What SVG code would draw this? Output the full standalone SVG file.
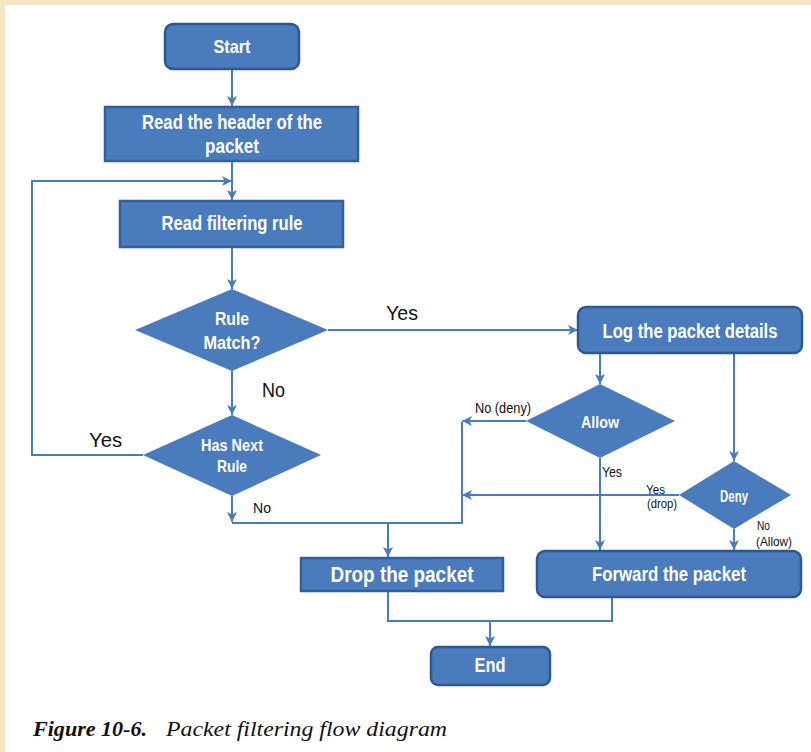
<svg xmlns="http://www.w3.org/2000/svg" width="811" height="752" viewBox="0 0 811 752">
<defs>
<marker id="arr" markerUnits="userSpaceOnUse" markerWidth="11" markerHeight="10" refX="10" refY="5" orient="auto">
<path d="M0,0 L10,5 L0,10 L2.5,5 z" fill="#4a7cbd"/>
</marker>
</defs>
<style>
.box{fill:#4a7cbd;stroke:#31609a;stroke-width:2.5}
.rbox{fill:#4a7cbd;stroke:#2c5a8e;stroke-width:2.5}
.dia{fill:#4a7cbd;stroke:none}
.ln{fill:none;stroke:#4a7cbd;stroke-width:2}
.t{font-family:'Liberation Sans',Arial,sans-serif;font-weight:bold;fill:#ffffff;text-anchor:middle}
.lb{font-family:'Liberation Sans',Arial,sans-serif;fill:#111111}
.cap{font-family:'Liberation Serif','Times New Roman',serif;font-style:italic;fill:#111111}
</style>
<rect x="0" y="0" width="811" height="752" fill="#f5e7c6"/>
<rect x="5" y="5" width="806" height="747" fill="#ffffff"/>

<g id="connectors">
<path class="ln" d="M232,69 V106" marker-end="url(#arr)"/>
<path class="ln" d="M232,161 V200" marker-end="url(#arr)"/>
<path class="ln" d="M143,455 H32 V181 H232" marker-end="url(#arr)"/>
<path class="ln" d="M232,247 V289" marker-end="url(#arr)"/>
<path class="ln" d="M232,371 V415" marker-end="url(#arr)"/>
<path class="ln" d="M328,330 H578" marker-end="url(#arr)"/>
<path class="ln" d="M232,496 V522" marker-end="url(#arr)"/>
<path class="ln" d="M232,523 H462 V422"/>
<path class="ln" d="M388,523 V557" marker-end="url(#arr)"/>
<path class="ln" d="M600,353 V384" marker-end="url(#arr)"/>
<path class="ln" d="M734,353 V461" marker-end="url(#arr)"/>
<path class="ln" d="M526,421 H462" marker-end="url(#arr)"/>
<path class="ln" d="M679,495 H462" marker-end="url(#arr)"/>
<path class="ln" d="M600,458 V550" marker-end="url(#arr)"/>
<path class="ln" d="M734,529 V550" marker-end="url(#arr)"/>
<path class="ln" d="M388,591 V621 H612 V597"/>
<path class="ln" d="M490,621 V646" marker-end="url(#arr)"/>
<text class="lb" x="386" y="320" font-size="21" textLength="32" lengthAdjust="spacingAndGlyphs">Yes</text>
<text class="lb" x="262" y="397" font-size="21" textLength="23" lengthAdjust="spacingAndGlyphs">No</text>
<text class="lb" x="89" y="447" font-size="21" textLength="33" lengthAdjust="spacingAndGlyphs">Yes</text>
<text class="lb" x="253" y="513" font-size="15" textLength="18" lengthAdjust="spacingAndGlyphs">No</text>
<text class="lb" x="475" y="413" font-size="14" textLength="56" lengthAdjust="spacingAndGlyphs">No (deny)</text>
<text class="lb" x="602" y="477" font-size="14" textLength="20" lengthAdjust="spacingAndGlyphs">Yes</text>
<text class="lb" x="646" y="494" font-size="12.5" textLength="19" lengthAdjust="spacingAndGlyphs">Yes</text>
<text class="lb" x="647" y="508" font-size="12.5" textLength="30" lengthAdjust="spacingAndGlyphs">(drop)</text>
<text class="lb" x="757" y="530" font-size="12" textLength="13" lengthAdjust="spacingAndGlyphs">No</text>
<text class="lb" x="756" y="546" font-size="12" textLength="36" lengthAdjust="spacingAndGlyphs">(Allow)</text>
</g>

<g id="start">
<rect class="rbox" x="165" y="24" width="134" height="45" rx="8"/>
<text class="t" x="232" y="53" font-size="18.5" textLength="37" lengthAdjust="spacingAndGlyphs">Start</text>
</g>
<g id="read-header">
<rect class="box" x="105" y="107" width="253" height="54"/>
<text class="t" x="232" y="129" font-size="19.5" textLength="180" lengthAdjust="spacingAndGlyphs">Read the header of the</text>
<text class="t" x="232" y="153" font-size="19.5" textLength="54" lengthAdjust="spacingAndGlyphs">packet</text>
</g>
<g id="read-rule">
<rect class="box" x="120" y="201" width="223" height="46"/>
<text class="t" x="232" y="230" font-size="19.5" textLength="141" lengthAdjust="spacingAndGlyphs">Read filtering rule</text>
</g>
<g id="rule-match">
<polygon class="dia" points="232,289 328,330 232,371 135,330"/>
<text class="t" x="232" y="325" font-size="18.5" textLength="34" lengthAdjust="spacingAndGlyphs">Rule</text>
<text class="t" x="232" y="349" font-size="18.5" textLength="57" lengthAdjust="spacingAndGlyphs">Match?</text>
</g>
<g id="has-next">
<polygon class="dia" points="232,415 321,455 232,496 143,455"/>
<text class="t" x="232" y="451" font-size="17" textLength="62" lengthAdjust="spacingAndGlyphs">Has Next</text>
<text class="t" x="232" y="472" font-size="17" textLength="30" lengthAdjust="spacingAndGlyphs">Rule</text>
</g>
<g id="log">
<rect class="rbox" x="578" y="307" width="224" height="46" rx="8"/>
<text class="t" x="690" y="338" font-size="20" textLength="175" lengthAdjust="spacingAndGlyphs">Log the packet details</text>
</g>
<g id="allow">
<polygon class="dia" points="600,384 675,421 600,458 526,421"/>
<text class="t" x="600" y="428" font-size="16" textLength="38" lengthAdjust="spacingAndGlyphs">Allow</text>
</g>
<g id="deny">
<polygon class="dia" points="734,461 791,495 734,529 679,495"/>
<text class="t" x="734" y="502" font-size="16" textLength="28" lengthAdjust="spacingAndGlyphs">Deny</text>
</g>
<g id="drop">
<rect class="box" x="301" y="558" width="202" height="33"/>
<text class="t" x="402" y="582" font-size="22" textLength="143" lengthAdjust="spacingAndGlyphs">Drop the packet</text>
</g>
<g id="forward">
<rect class="rbox" x="537" y="551" width="264" height="46" rx="8"/>
<text class="t" x="669" y="581" font-size="21" textLength="154" lengthAdjust="spacingAndGlyphs">Forward the packet</text>
</g>
<g id="end">
<rect class="rbox" x="431" y="647" width="119" height="38" rx="7"/>
<text class="t" x="490" y="672" font-size="21" textLength="31" lengthAdjust="spacingAndGlyphs">End</text>
</g>

<text class="cap" x="33" y="736" font-size="20"><tspan font-weight="bold" textLength="114" lengthAdjust="spacingAndGlyphs">Figure 10-6.</tspan><tspan x="166" textLength="281" lengthAdjust="spacingAndGlyphs">Packet filtering flow diagram</tspan></text>
</svg>
